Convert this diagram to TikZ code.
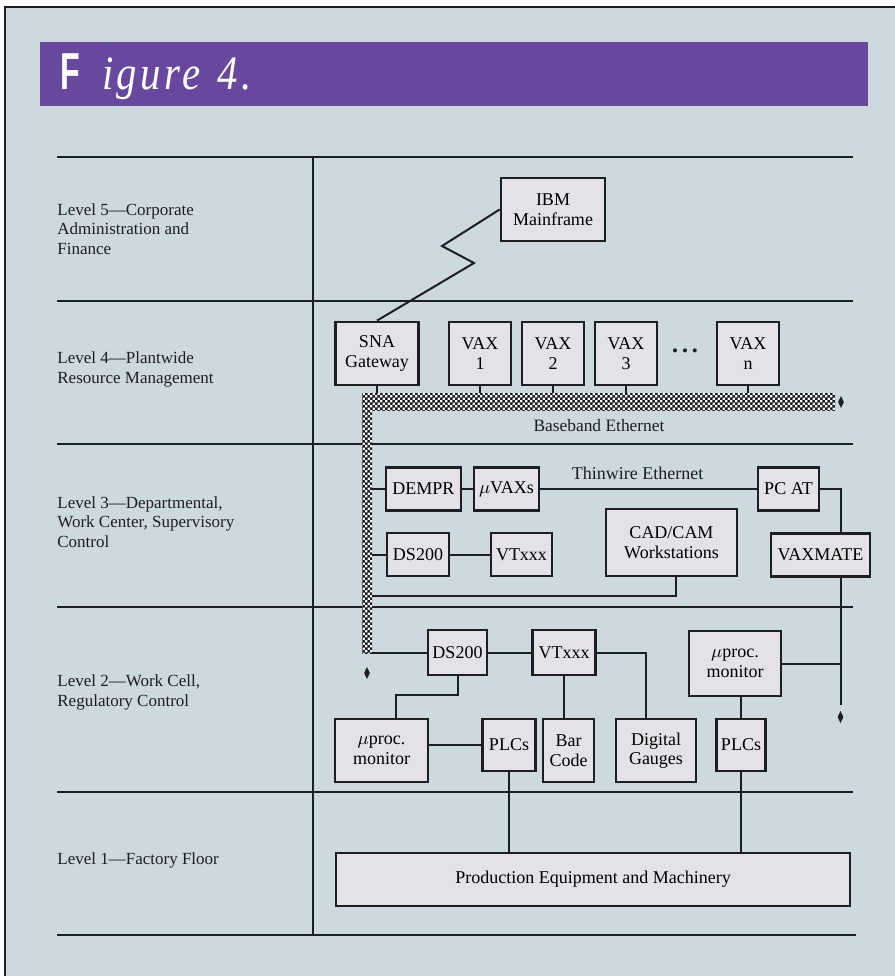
\documentclass[tikz,border=0pt]{standalone}
\usepackage{fontspec}
\setmainfont{Liberation Serif}
\newfontfamily\headsans[FakeStretch=0.62]{Liberation Sans}
\newfontfamily\headital[FakeStretch=0.85,LetterSpace=7]{Liberation Serif}
\usetikzlibrary{positioning,shapes.geometric,patterns.meta}

\definecolor{paper}{RGB}{204,217,222}
\definecolor{boxfill}{RGB}{228,225,231}
\definecolor{plum}{RGB}{104,72,158}
\definecolor{ink}{RGB}{30,30,34}

\pgfdeclarepattern{
  name=finecheck,
  type=uncolored,
  bottom left={\pgfpointorigin},
  top right={\pgfpoint{2.4pt}{2.4pt}},
  tile size={\pgfpoint{2.4pt}{2.4pt}},
  code={
    \pgfpathrectangle{\pgfpointorigin}{\pgfpoint{1.3pt}{1.3pt}}
    \pgfpathrectangle{\pgfpoint{1.2pt}{1.2pt}}{\pgfpoint{1.3pt}{1.3pt}}
    \pgfusepath{fill}
  }
}

\tikzset{
  unit/.style={draw=ink, line width=1.4pt, fill=boxfill, align=center, inner sep=1pt,
    font=\fontsize{9}{9.8}\selectfont},
  sz/.style 2 args={minimum width=#1, minimum height=#2},
  wire/.style={draw=ink, line width=1pt},
  rule/.style={draw=ink, line width=1pt},
  level/.style={anchor=west, align=left, inner sep=0pt, text=ink,
    font=\fontsize{8.5}{9.6}\selectfont},
  term/.style={diamond, fill=ink, inner sep=0pt, minimum width=3pt, minimum height=6.2pt},
  bus/.style={preaction={fill=white!80!paper}, pattern=finecheck, pattern color=ink, inner sep=0pt},
}

\begin{document}
\begin{tikzpicture}[x=0.5pt,y=-0.5pt]
  \useasboundingbox (0,0) rectangle (895,976);
  \fill[paper] (5,7) rectangle (895,976);
  \draw[ink,line width=0.8pt] (895,7) -- (5,7) -- (5,976);

  % title bar
  \fill[plum] (40,42) rectangle (868,106);
  \node[anchor=base west, text=white, inner sep=0pt] (title) at (60,89)
    {{\fontsize{26}{28}\selectfont\headsans\bfseries F}\hspace{11pt}{\fontsize{24}{28}\selectfont\headital\itshape igure\hspace{2pt} 4.}};

  % level grid
  \draw[rule] (57,157) -- (853,157);
  \draw[rule] (57,301) -- (853,301);
  \draw[rule] (57,444) -- (853,444);
  \draw[rule] (57,607) -- (853,607);
  \draw[rule] (57,792) -- (853,792);
  \draw[rule] (57,935) -- (856,935);
  \draw[rule] (313,157) -- (313,935);

  % level names
  \node[level] (lvlfive) at (57,229) {Level 5—Corporate\\Administration and\\Finance};
  \node[level] (lvlfour) at (57,369.5) {Level 4—Plantwide\\Resource Management};
  \node[level] (lvlthree) at (57,522) {Level 3—Departmental,\\Work Center, Supervisory\\Control};
  \node[level] (lvltwo) at (57,692.5) {Level 2—Work Cell,\\Regulatory Control};
  \node[level] (lvlone) at (57,860) {Level 1—Factory Floor};

  % level 5 and 4
  \node[unit, sz={52pt}{31.5pt}] (ibm) at (553,209.5) {IBM\\Mainframe};
  \node[unit, sz={41.75pt}{31.5pt}] (sna) at (377,353.5) {SNA\\Gateway};
  \node[unit, sz={31pt}{31.5pt}] (vaxone) at (480,353.5) {VAX\\1};
  \node[unit, sz={31pt}{31.5pt}] (vaxtwo) at (553,353.5) {VAX\\2};
  \node[unit, sz={31pt}{31.5pt}] (vaxthree) at (626,353.5) {VAX\\3};
  \node[unit, sz={31pt}{31.5pt}] (vaxn) at (748,353.5) {VAX\\n};
  \node[inner sep=0pt, text=ink, font=\fontsize{8.5}{8.5}\selectfont] (dots) at (685,353)
    {\textbullet\hspace{2pt}\textbullet\hspace{2pt}\textbullet};
  \draw[wire] (sna.north) -- (474,263) -- (442,246) -- (ibm.west);

  % baseband ethernet
  \node[bus, sz={236.5pt}{8.5pt}] (base) at (598.5,401.5) {};
  \node[bus, sz={5pt}{130pt}] (drop) at (367,523) {};
  \node[term] (baseend) at (841,402) {};
  \node[term] (dropend) at (367,673) {};
  \node[font=\fontsize{8.7}{9.6}\selectfont, text=ink] (baselbl) at (599,426) {Baseband Ethernet};
  \draw[wire] (sna.south) -- (sna.south |- base.north);
  \draw[wire] (vaxone.south) -- (vaxone.south |- base.north);
  \draw[wire] (vaxtwo.south) -- (vaxtwo.south |- base.north);
  \draw[wire] (vaxthree.south) -- (vaxthree.south |- base.north);
  \draw[wire] (vaxn.south) -- (vaxn.south |- base.north);

  % level 3
  \node[unit, sz={37.5pt}{21.25pt}] (dempr) at (423.5,489) {DEMPR};
  \node[unit, sz={32.5pt}{21.25pt}] (muvax) at (506.5,489) {$\mu$VAXs};
  \node[unit, sz={30.5pt}{21.25pt}] (pcat) at (788.5,489) {PC AT};
  \node[unit, sz={49.5pt}{21.25pt}] (vaxmate) at (820.5,555) {VAXMATE};
  \node[unit, sz={31pt}{21.5pt}] (dsa) at (418,554.5) {DS200};
  \node[unit, sz={30.5pt}{21.5pt}] (vta) at (521.5,554.5) {VTxxx};
  \node[unit, sz={65.5pt}{33.5pt}] (cadcam) at (671.5,542.5) {CAD/CAM\\Workstations};
  \coordinate (cadrow) at (676,596);
  \draw[wire] (drop.east |- dempr.west) -- (dempr.west);
  \draw[wire] (dempr.east) -- (muvax.west);
  \draw[wire] (muvax.east) -- node[pos=0.45, above=1pt, font=\fontsize{9}{9.8}\selectfont, text=ink] {Thinwire Ethernet} (pcat.west);
  \draw[wire] (pcat.east) -| ([xshift=10pt]vaxmate.north);
  \draw[wire] (drop.east |- dsa.west) -- (dsa.west);
  \draw[wire] (dsa.east) -- (vta.west);
  \draw[wire] ([xshift=2.25pt]cadcam.south) |- (drop.east |- cadrow);

  % level 2
  \node[unit, sz={29.5pt}{22.5pt}] (dsb) at (457.5,652.5) {DS200};
  \node[unit, sz={31.75pt}{22.5pt}] (vtb) at (564,652.5) {VTxxx};
  \node[unit, sz={46.5pt}{31.5pt}] (mpa) at (381.5,750.5) {$\mu$proc.\\monitor};
  \node[unit, sz={26.5pt}{26pt}] (plca) at (509,745) {PLCs};
  \node[unit, sz={25.5pt}{31.5pt}] (barcode) at (568.5,750.5) {Bar\\Code};
  \node[unit, sz={40pt}{31.5pt}] (gauge) at (656,750.5) {Digital\\Gauges};
  \node[unit, sz={46pt}{32.5pt}] (mpb) at (735,663.5) {$\mu$proc.\\monitor};
  \node[unit, sz={24.75pt}{26pt}] (plcb) at (741,745) {PLCs};
  \coordinate (mpbend) at (396,695);
  \coordinate (rend) at (840.5,705);
  \node[term] (rightend) at (840.5,717) {};
  \draw[wire] (drop.east |- dsb.west) -- (dsb.west);
  \draw[wire] (dsb.east) -- (vtb.west);
  \draw[wire] (vtb.east) -| ([xshift=-5pt]gauge.north);
  \draw[wire] (vtb.south) -- (vtb.south |- barcode.north);
  \draw[wire] (dsb.south) |- (mpbend) -- (mpbend |- mpa.north);
  \draw[wire] (mpa.east |- plca.west) -- (plca.west);
  \draw[wire] ([xshift=10pt]vaxmate.south) -- (rend);
  \draw[wire] (mpb.east) -- (mpb.east -| rend);
  \draw[wire] (plcb.north) -- (plcb.north |- mpb.south);

  % level 1
  \node[unit, sz={257pt}{26.5pt}] (prod) at (593,879.5) {Production Equipment and Machinery};
  \draw[wire] (plca.south) -- (plca.south |- prod.north);
  \draw[wire] (plcb.south) -- (plcb.south |- prod.north);
\end{tikzpicture}
\end{document}
